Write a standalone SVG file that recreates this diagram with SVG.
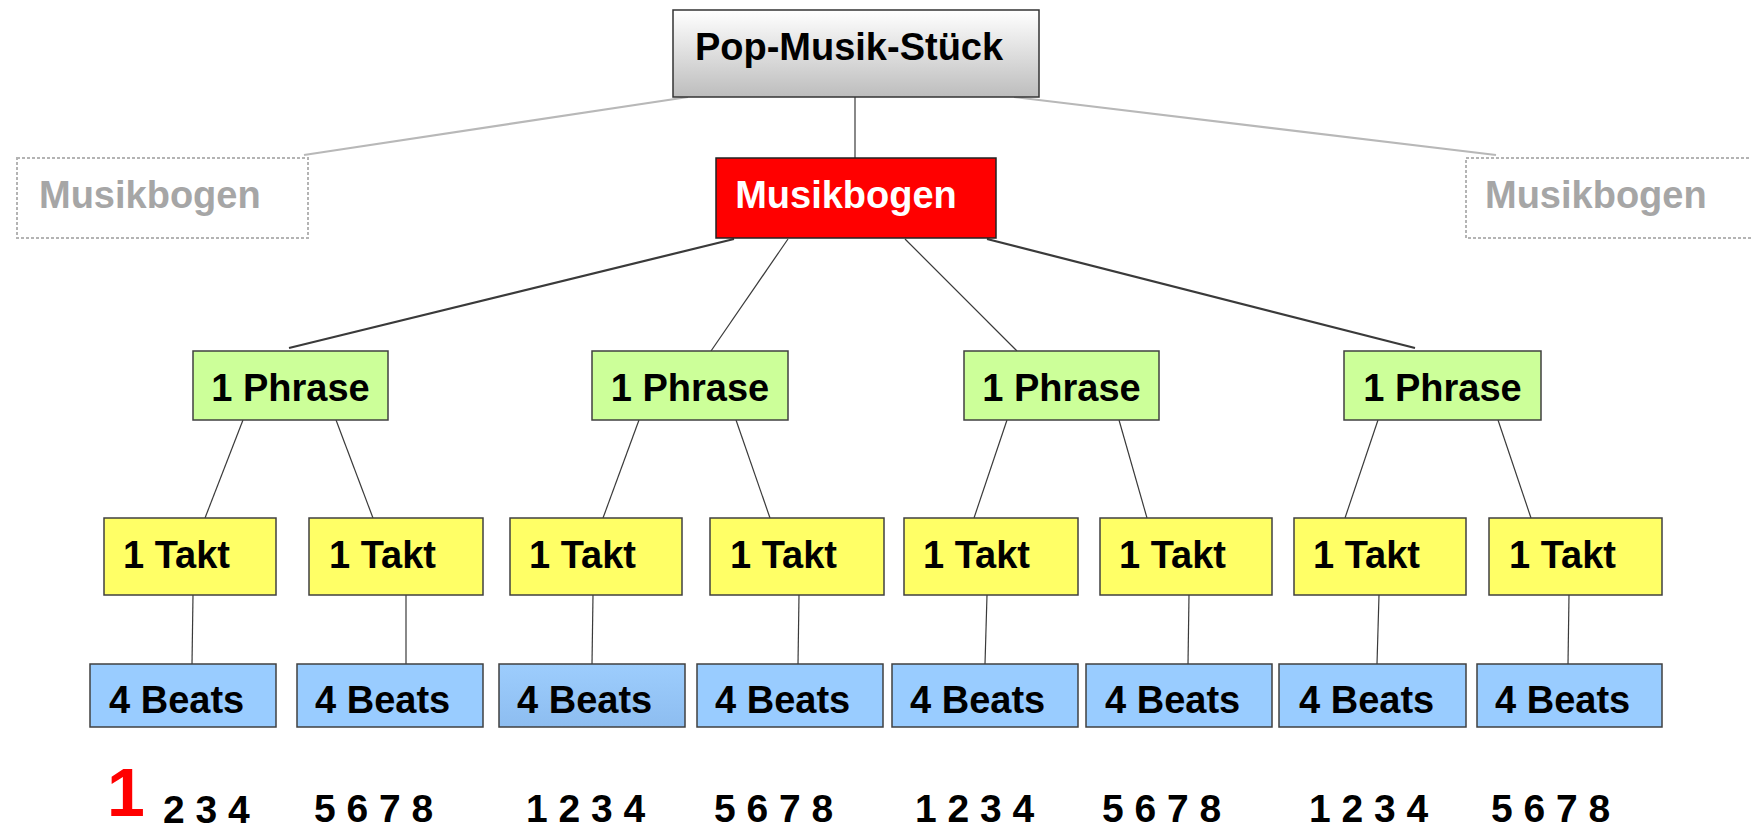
<svg xmlns="http://www.w3.org/2000/svg" width="1751" height="831" viewBox="0 0 1751 831">
<defs>
<linearGradient id="gPop" x1="0" y1="0" x2="0" y2="1">
<stop offset="0" stop-color="#ffffff"/>
<stop offset="1" stop-color="#bdbdbd"/>
</linearGradient>
<linearGradient id="gBeat" x1="0" y1="0" x2="0" y2="1">
<stop offset="0" stop-color="#9dcdfd"/>
<stop offset="1" stop-color="#8dbdf0"/>
</linearGradient>
</defs>
<style>
text{font-family:"Liberation Sans",Arial,sans-serif;font-weight:bold;font-size:38px;fill:#000}
.box{stroke:#404040;stroke-width:1.5}
.phrase{fill:#ccff99}
.takt{fill:#ffff66}
.beat{fill:#99ccff}
.ghost{fill:none;stroke:#b4b4b4;stroke-width:2;stroke-dasharray:3 2}
.gtext{fill:#a6a6a6}
.c{fill:none;stroke:#3a3a3a;stroke-width:1.2}
.cthick{fill:none;stroke:#3a3a3a;stroke-width:2.2}
.cgray{fill:none;stroke:#b8b8b8;stroke-width:2.2}
.num{font-size:39px}
.mid{text-anchor:middle}
</style>
<g id="connectors">
<line class="cgray" x1="688" y1="97" x2="304" y2="155"/>
<line class="cgray" x1="1014" y1="97" x2="1496" y2="155"/>
<line class="c" x1="855" y1="97" x2="855" y2="158"/>
<line class="cthick" x1="734" y1="239" x2="289" y2="348"/>
<line class="c" x1="788" y1="239" x2="711" y2="351"/>
<line class="c" x1="905" y1="239" x2="1017" y2="351"/>
<line class="cthick" x1="987" y1="239" x2="1415" y2="348"/>
<line class="c" x1="243" y1="420" x2="205" y2="518"/>
<line class="c" x1="336" y1="420" x2="373" y2="518"/>
<line class="c" x1="639" y1="420" x2="603" y2="518"/>
<line class="c" x1="736" y1="420" x2="770" y2="518"/>
<line class="c" x1="1007" y1="420" x2="974" y2="518"/>
<line class="c" x1="1119" y1="420" x2="1147" y2="518"/>
<line class="c" x1="1378" y1="420" x2="1345" y2="518"/>
<line class="c" x1="1498" y1="420" x2="1531" y2="518"/>
<line class="c" x1="193" y1="595" x2="192" y2="664"/>
<line class="c" x1="406" y1="595" x2="406" y2="664"/>
<line class="c" x1="593" y1="595" x2="592" y2="664"/>
<line class="c" x1="799" y1="595" x2="798" y2="664"/>
<line class="c" x1="987" y1="595" x2="985" y2="664"/>
<line class="c" x1="1189" y1="595" x2="1188" y2="664"/>
<line class="c" x1="1379" y1="595" x2="1377" y2="664"/>
<line class="c" x1="1569" y1="595" x2="1568" y2="664"/>
</g>
<g id="pop">
<rect x="673" y="10" width="366" height="87" fill="url(#gPop)" stroke="#333" stroke-width="1.5"/>
<text x="849" y="60" class="mid">Pop-Musik-Stück</text>
</g>
<g id="musikbogen-left">
<rect x="17" y="158" width="291" height="80" class="ghost"/>
<text x="39" y="208" class="gtext">Musikbogen</text>
</g>
<g id="musikbogen">
<rect x="716" y="158" width="280" height="80" fill="#ff0000" stroke="#222" stroke-width="1.5"/>
<text x="846" y="208" class="mid" style="fill:#ffffff">Musikbogen</text>
</g>
<g id="musikbogen-right">
<rect x="1466" y="158" width="300" height="80" class="ghost"/>
<text x="1485" y="208" class="gtext">Musikbogen</text>
</g>
<g id="phrase1"><rect x="193" y="351" width="195" height="69" class="box phrase"/><text x="290.5" y="401" class="mid">1 Phrase</text></g>
<g id="phrase2"><rect x="592" y="351" width="196" height="69" class="box phrase"/><text x="690" y="401" class="mid">1 Phrase</text></g>
<g id="phrase3"><rect x="964" y="351" width="195" height="69" class="box phrase"/><text x="1061.5" y="401" class="mid">1 Phrase</text></g>
<g id="phrase4"><rect x="1344" y="351" width="197" height="69" class="box phrase"/><text x="1442.5" y="401" class="mid">1 Phrase</text></g>
<g id="takt1"><rect x="104" y="518" width="172" height="77" class="box takt"/><text x="123" y="568">1 Takt</text></g>
<g id="takt2"><rect x="309" y="518" width="174" height="77" class="box takt"/><text x="329" y="568">1 Takt</text></g>
<g id="takt3"><rect x="510" y="518" width="172" height="77" class="box takt"/><text x="529" y="568">1 Takt</text></g>
<g id="takt4"><rect x="710" y="518" width="174" height="77" class="box takt"/><text x="730" y="568">1 Takt</text></g>
<g id="takt5"><rect x="904" y="518" width="174" height="77" class="box takt"/><text x="923" y="568">1 Takt</text></g>
<g id="takt6"><rect x="1100" y="518" width="172" height="77" class="box takt"/><text x="1119" y="568">1 Takt</text></g>
<g id="takt7"><rect x="1294" y="518" width="172" height="77" class="box takt"/><text x="1313" y="568">1 Takt</text></g>
<g id="takt8"><rect x="1489" y="518" width="173" height="77" class="box takt"/><text x="1509" y="568">1 Takt</text></g>
<g id="beats1"><rect x="90" y="664" width="186" height="63" class="box beat"/><text x="109" y="713">4 Beats</text></g>
<g id="beats2"><rect x="297" y="664" width="186" height="63" class="box beat"/><text x="315" y="713">4 Beats</text></g>
<g id="beats3"><rect x="499" y="664" width="186" height="63" class="box" fill="url(#gBeat)"/><text x="517" y="713">4 Beats</text></g>
<g id="beats4"><rect x="697" y="664" width="186" height="63" class="box beat"/><text x="715" y="713">4 Beats</text></g>
<g id="beats5"><rect x="892" y="664" width="186" height="63" class="box beat"/><text x="910" y="713">4 Beats</text></g>
<g id="beats6"><rect x="1086" y="664" width="186" height="63" class="box beat"/><text x="1105" y="713">4 Beats</text></g>
<g id="beats7"><rect x="1279" y="664" width="187" height="63" class="box beat"/><text x="1299" y="713">4 Beats</text></g>
<g id="beats8"><rect x="1477" y="664" width="185" height="63" class="box beat"/><text x="1495" y="713">4 Beats</text></g>
<g id="counts">
<text x="107" y="816" style="font-size:68px;fill:#ff0000">1</text>
<text x="163" y="823" class="num">2 3 4</text>
<text x="314" y="822" class="num">5 6 7 8</text>
<text x="526" y="822" class="num">1 2 3 4</text>
<text x="714" y="822" class="num">5 6 7 8</text>
<text x="915" y="822" class="num">1 2 3 4</text>
<text x="1102" y="822" class="num">5 6 7 8</text>
<text x="1309" y="822" class="num">1 2 3 4</text>
<text x="1491" y="822" class="num">5 6 7 8</text>
</g>
</svg>
